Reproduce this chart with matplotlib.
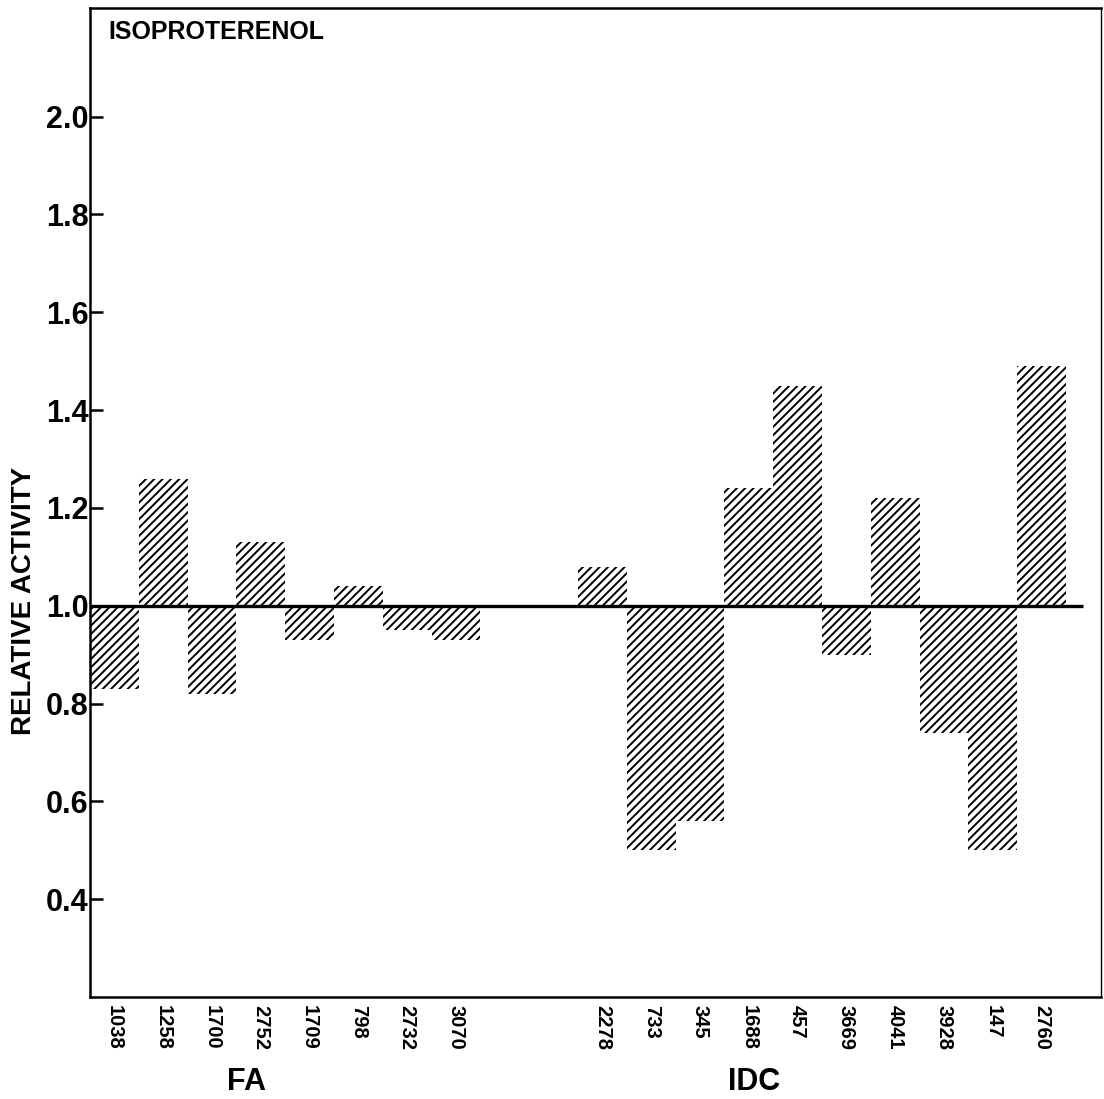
import matplotlib
matplotlib.use("Agg")
import matplotlib.pyplot as plt
import matplotlib.transforms as mtransforms
from matplotlib import font_manager

# Relative activity under isoproterenol for each specimen
fa_labels = ["1038", "1258", "1700", "2752", "1709", "798", "2732", "3070"]
fa_values = [0.83, 1.26, 0.82, 1.13, 0.93, 1.04, 0.95, 0.93]

idc_labels = ["2278", "733", "345", "1688", "457", "3669", "4041", "3928", "147", "2760"]
idc_values = [1.08, 0.50, 0.56, 1.24, 1.45, 0.90, 1.22, 0.74, 0.50, 1.49]

group_names = ["FA", "IDC"]
y_ticks = [0.4, 0.6, 0.8, 1.0, 1.2, 1.4, 1.6, 1.8, 2.0]
baseline = 1.0

installed = {f.name for f in font_manager.fontManager.ttflist}
narrow = "Liberation Sans"
for cand in ["Liberation Sans Narrow", "DejaVu Sans Condensed"]:
    if cand in installed:
        narrow = cand
        break

plt.rcParams["hatch.linewidth"] = 1.4

fig = plt.figure(figsize=(11.04, 10.99), dpi=100)
ax = fig.add_axes([90 / 1104, 1 - 997 / 1099, (1101 - 90) / 1104, (997 - 8) / 1099])

gap = 2
fa_pos = list(range(len(fa_labels)))
idc_pos = [len(fa_labels) + gap + i for i in range(len(idc_labels))]

positions = fa_pos + idc_pos
values = fa_values + idc_values
labels = fa_labels + idc_labels

ax.bar(positions, [v - baseline for v in values], bottom=baseline, width=1.0,
       color="white", edgecolor="black", linewidth=0, hatch="////", zorder=2)

last = idc_pos[-1]
ax.plot([-0.5, last + 0.85], [baseline, baseline], color="black", lw=2.4,
        solid_capstyle="butt", zorder=3)

ax.set_xlim(-0.5, -0.5 + (1101 - 90) / 48.8)
ax.set_ylim(0.2, 2.222)

ax.set_yticks(y_ticks)
ax.set_yticklabels([f"{t:.1f}" for t in y_ticks], family=[narrow, "DejaVu Sans"],
                   fontweight="bold", fontsize=22)
ax.tick_params(axis="y", direction="in", length=9, width=1.8, pad=1)

ax.set_xticks(positions)
ax.set_xticklabels(labels, rotation=270, family=["Liberation Sans", "DejaVu Sans"],
                   fontsize=14.5, fontweight="bold", va="top", ha="center")
ax.tick_params(axis="x", length=0, pad=6)

for side in ["left", "bottom", "top"]:
    ax.spines[side].set_linewidth(1.8)
ax.spines["right"].set_linewidth(1.0)

ax.set_ylabel("RELATIVE ACTIVITY", family=[narrow, "DejaVu Sans"], fontweight="bold",
              fontsize=20)
ax.yaxis.set_label_coords(-0.052, 0.40)

ax.text(0.018, 0.988, "ISOPROTERENOL", transform=ax.transAxes, ha="left", va="top",
        family=[narrow, "DejaVu Sans"], fontweight="bold", fontsize=18)

trans = mtransforms.blended_transform_factory(ax.transData, fig.transFigure)
fa_center = 2.7
idc_center = 13.1
ax.text(fa_center, 1 - 1082 / 1099, group_names[0], transform=trans, ha="center",
        va="center", family=["Liberation Sans", "DejaVu Sans"], fontweight="bold",
        fontsize=22)
ax.text(idc_center, 1 - 1082 / 1099, group_names[1], transform=trans, ha="center",
        va="center", family=["Liberation Sans", "DejaVu Sans"], fontweight="bold",
        fontsize=22)

fig.savefig("out.png", dpi=100, facecolor="white")
